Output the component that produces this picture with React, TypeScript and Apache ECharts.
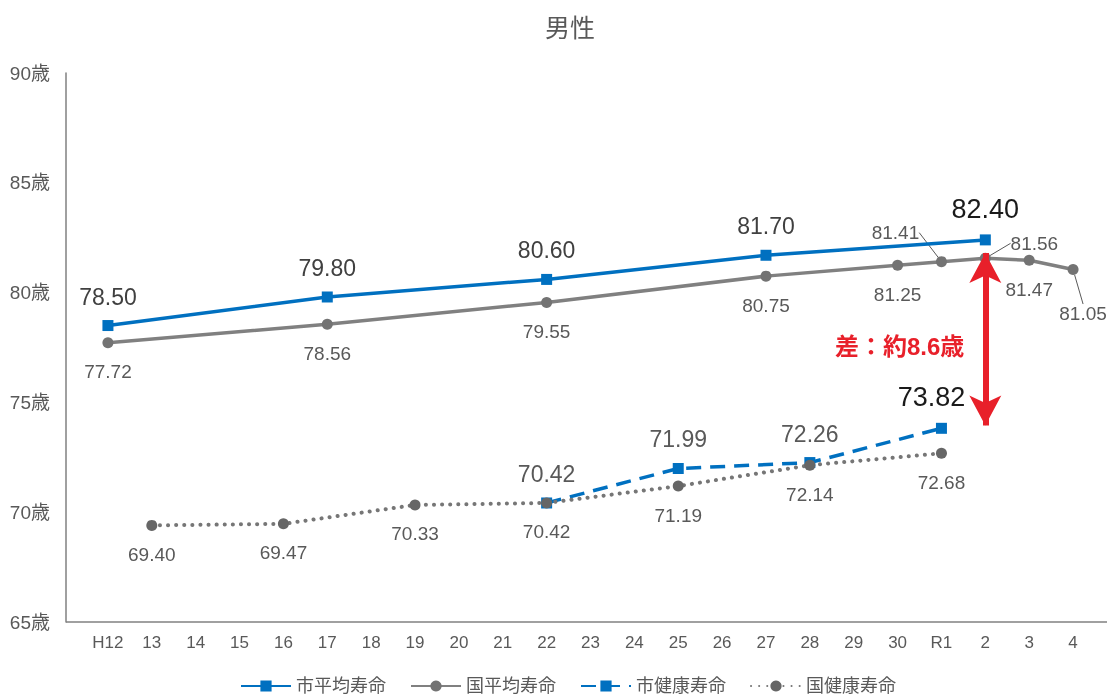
import React, { useEffect, useRef } from "react";
import * as echarts from "echarts";

const categories = ["H12", "13", "14", "15", "16", "17", "18", "19", "20", "21", "22", "23", "24", "25", "26", "27", "28", "29", "30", "R1", "2", "3", "4"];
const cityAvg: (number | null)[] = [78.5, null, null, null, null, 79.8, null, null, null, null, 80.6, null, null, null, null, 81.7, null, null, null, null, 82.4, null, null];
const natAvg: (number | null)[] = [77.72, null, null, null, null, 78.56, null, null, null, null, 79.55, null, null, null, null, 80.75, null, null, 81.25, 81.41, 81.56, 81.47, 81.05];
const cityHealth: (number | null)[] = [null, null, null, null, null, null, null, null, null, null, 70.42, null, null, 71.99, null, null, 72.26, null, null, 73.82, null, null, null];
const natHealth: (number | null)[] = [null, 69.4, null, null, 69.47, null, null, 70.33, null, null, 70.42, null, null, 71.19, null, null, 72.14, null, null, 72.68, null, null, null];
const yTicks = [65, 70, 75, 80, 85, 90];
const seriesNames = ["市平均寿命", "国平均寿命", "市健康寿命", "国健康寿命"];
const gapTop = 81.8;
const gapBottom = 73.95;
const gapLabel = "差：約8.6歳";

const FONT = "'Liberation Sans', 'Noto Sans CJK JP', sans-serif";
const BLUE = "#0070c0";
const GRAY = "#808080";
const DGRAY = "#767676";
const TXT = "#595959";

const natOffsets: Record<number, [number, number]> = {
  19: [-46, -58],
  20: [49, -44],
  22: [10, 15],
};

const fmt = (p: any) => (typeof p.value === "number" ? p.value.toFixed(2) : "");

export default function App() {
  const ref = useRef<HTMLDivElement>(null);
  useEffect(() => {
    if (!ref.current) return;
    const chart = echarts.init(ref.current, null, { renderer: "svg" });
    const bigIdxCity = 20;
    const bigIdxHealth = 19;
    chart.setOption({
      animation: false,
      textStyle: { fontFamily: FONT },
      title: {
        text: "男性",
        left: 540,
        top: 10,
        textStyle: { fontSize: 25, fontWeight: "normal", color: TXT, fontFamily: FONT },
      },
      legend: {
        top: 672,
        left: 235,
        itemWidth: 50,
        itemHeight: 14,
        itemGap: 24,
        textStyle: { fontSize: 18, color: TXT, fontFamily: FONT },
        data: seriesNames,
      },
      grid: { left: 86, right: 15, top: 73, bottom: 77 },
      xAxis: {
        type: "category",
        data: categories,
        boundaryGap: true,
        axisLine: { show: false },
        axisTick: { show: false },
        axisLabel: { fontSize: 17, color: TXT, margin: 12, interval: 0, fontFamily: FONT },
      },
      yAxis: {
        type: "value",
        min: yTicks[0],
        max: yTicks[yTicks.length - 1],
        interval: 5,
        offset: 20,
        axisLine: { show: true, lineStyle: { color: GRAY, width: 1.5 } },
        axisTick: { show: false },
        splitLine: { show: false },
        axisLabel: { fontSize: 19, color: TXT, margin: 16, formatter: (v: number) => v + "歳", fontFamily: FONT },
      },
      graphic: [
        { type: "line", shape: { x1: 66, y1: 622, x2: 1107, y2: 622 }, style: { stroke: GRAY, lineWidth: 1.5 }, silent: true },
        {
          type: "text",
          left: 835,
          top: 334,
          style: { text: gapLabel, fontSize: 24, fontWeight: "bold", fill: "#e8202a", fontFamily: FONT },
          silent: true,
        },
      ],
      series: [
        {
          name: seriesNames[0],
          type: "line",
          connectNulls: true,
          symbol: "rect",
          symbolSize: 11,
          itemStyle: { color: BLUE },
          lineStyle: { color: BLUE, width: 3.5 },
          z: 3,
          data: cityAvg.map((v, i) =>
            i === bigIdxCity ? { value: v, label: { fontSize: 27, color: "#1a1a1a" } } : v
          ),
          label: { show: true, position: "top", distance: 12, fontSize: 23, color: "#404040", formatter: fmt },
          markLine: {
            silent: true,
            symbol: ["arrow", "arrow"],
            symbolSize: [24, 30],
            label: { show: false },
            lineStyle: { color: "#e8202a", width: 6, type: "solid" },
            data: [[{ coord: ["2", gapTop] }, { coord: ["2", gapBottom] }]],
          },
        },
        {
          name: seriesNames[1],
          type: "line",
          connectNulls: true,
          symbol: "circle",
          symbolSize: 11,
          itemStyle: { color: "#737373" },
          lineStyle: { color: GRAY, width: 3.5 },
          z: 2,
          data: natAvg.map((v, i) =>
            natOffsets[i] ? { value: v, labelLine: { show: true, lineStyle: { color: "#595959", width: 1 } } } : v
          ),
          label: { show: true, position: "bottom", distance: 14, fontSize: 19, color: TXT, formatter: fmt },
          labelLayout: (params: any) => {
            const o = natOffsets[params.dataIndex];
            return o ? { dx: o[0], dy: o[1] } : {};
          },
        },
        {
          name: seriesNames[2],
          type: "line",
          connectNulls: true,
          symbol: "rect",
          symbolSize: 11,
          itemStyle: { color: BLUE },
          lineStyle: { color: BLUE, width: 3.5, type: [15, 9] },
          z: 3,
          data: cityHealth.map((v, i) =>
            i === bigIdxHealth ? { value: v, label: { fontSize: 27, color: "#1a1a1a", offset: [-10, 0] } } : v
          ),
          label: { show: true, position: "top", distance: 12, fontSize: 23, color: TXT, formatter: fmt },
        },
        {
          name: seriesNames[3],
          type: "line",
          connectNulls: true,
          symbol: "circle",
          symbolSize: 11,
          itemStyle: { color: "#666666" },
          lineStyle: { color: DGRAY, width: 4, type: [0.1, 8], cap: "round" },
          z: 4,
          data: natHealth,
          label: { show: true, position: "bottom", distance: 14, fontSize: 19, color: TXT, formatter: fmt },
        },
      ],
    });
    return () => chart.dispose();
  }, []);
  return <div ref={ref} style={{ position: "fixed", left: 0, top: 0, width: 1110, height: 699 }} />;
}
